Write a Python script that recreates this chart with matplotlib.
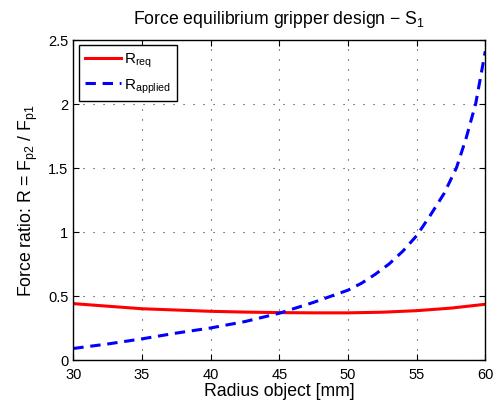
import numpy as np
import matplotlib
matplotlib.use("Agg")
import matplotlib.pyplot as plt

plt.rcParams['font.family'] = ['Liberation Sans', 'DejaVu Sans']
plt.rcParams['mathtext.fontset'] = 'custom'
plt.rcParams['mathtext.rm'] = 'Liberation Sans'
plt.rcParams['mathtext.it'] = 'Liberation Sans:italic'

# radius values [mm] and ratios
r_req_x = [30, 32.5, 35, 37.5, 40, 42.5, 45, 47.5, 50, 52.5, 55, 57.5, 60]
r_req = [0.44, 0.42, 0.40, 0.39, 0.38, 0.374, 0.37, 0.368, 0.368, 0.373, 0.385, 0.405, 0.435]

r_app_x = [30, 32.5, 35, 37.5, 40, 42.5, 45, 47.5, 50, 51, 52, 53, 54, 55, 56, 57, 57.9, 58.6, 59.3, 60]
r_app = [0.09, 0.125, 0.165, 0.21, 0.25, 0.30, 0.365, 0.45, 0.545, 0.60, 0.67, 0.75, 0.85, 0.97, 1.13, 1.30, 1.5, 1.73, 2.0, 2.41]

xticks = [30, 35, 40, 45, 50, 55, 60]
yticks = [0, 0.5, 1, 1.5, 2, 2.5]
ytick_labels = ['0', '0.5', '1', '1.5', '2', '2.5']

fig = plt.figure(figsize=(4.97, 4.06), dpi=100)
ax = fig.add_axes([73.3 / 497, 1 - 361 / 406, (485.3 - 73.3) / 497, (361 - 40.7) / 406])

ax.plot(r_req_x, r_req, color='red', lw=2.2, label=r'R$_{\mathrm{req}}$')
ax.plot(r_app_x, r_app, color='blue', lw=2.2, ls=(0, (3.4, 2.2)), label=r'R$_{\mathrm{applied}}$')

ax.set_xlim(30, 60)
ax.set_ylim(0, 2.5)
ax.set_xticks(xticks)
ax.set_yticks(yticks)
ax.set_yticklabels(ytick_labels)
ax.tick_params(direction='in', top=True, right=True, labelsize=10.5, length=4)
ax.tick_params(axis='x', pad=5)
ax.grid(True, ls=(0, (1, 8)), color='0.2', lw=0.8)
for s in ax.spines.values():
    s.set_linewidth(1.0)

ax.set_xlabel('Radius object [mm]', fontsize=12.7, labelpad=1)
ax.set_ylabel(r'Force ratio: R = F$_{\mathrm{p2}}$ / F$_{\mathrm{p1}}$', fontsize=12.7, labelpad=6)
ax.set_title(r'Force equilibrium gripper design $-$ S$_{\mathrm{1}}$', fontsize=12.7, pad=12)

leg = ax.legend(loc='upper left', fontsize=11, fancybox=False, framealpha=1,
                edgecolor='black', handlelength=2.4, handletextpad=0.15,
                borderaxespad=0.35, labelspacing=0.45)
leg.get_frame().set_linewidth(1.0)

fig.savefig('out.png', dpi=100)
